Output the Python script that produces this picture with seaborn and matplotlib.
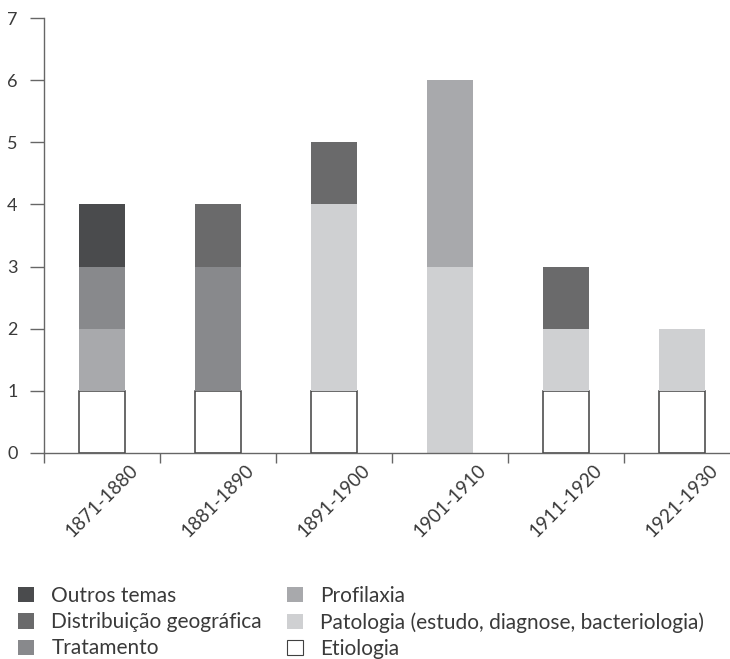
import numpy as np
import matplotlib
matplotlib.use("Agg")
import matplotlib.pyplot as plt
from matplotlib.patches import Patch
import seaborn as sns

# periods and number of works per theme (stacked from bottom to top)
periods = ["1871-1880", "1881-1890", "1891-1900", "1901-1910", "1911-1920", "1921-1930"]
etiologia = [1, 1, 1, 0, 1, 1]
patologia = [0, 0, 3, 3, 1, 1]
profilaxia = [1, 0, 0, 3, 0, 0]
tratamento = [1, 2, 0, 0, 0, 0]
distribuicao = [0, 1, 1, 0, 1, 0]
outros = [1, 0, 0, 0, 0, 0]

series = [
    ("Etiologia", etiologia, "white"),
    ("Patologia (estudo, diagnose, bacteriologia)", patologia, "#cfd0d2"),
    ("Profilaxia", profilaxia, "#a8a9ac"),
    ("Tratamento", tratamento, "#88898c"),
    ("Distribuição geográfica", distribuicao, "#6a6a6b"),
    ("Outros temas", outros, "#4a4b4d"),
]

sns.set_style("white")
plt.rcParams["font.family"] = ["Lato", "DejaVu Sans"]
txt = "#3a3a3a"
edge_col = "#404040"
axis_col = "#666666"

fig = plt.figure(figsize=(7.3, 6.59), dpi=100)
ax = fig.add_axes([0.060, 0.3126, 0.940, 0.66])

bottom = np.zeros(len(periods))
for name, vals, col in series:
    vals = np.array(vals, dtype=float)
    keep = vals > 0
    xs = [p for p, k in zip(periods, keep) if k]
    white = col == "white"
    sns.barplot(x=xs, y=vals[keep], order=periods, bottom=bottom[keep],
                color=col, edgecolor=edge_col if white else "none",
                linewidth=1.1 if white else 0, width=0.4,
                saturation=1, ax=ax, errorbar=None)
    bottom += vals

ax.set_xlim(-0.5, 5.414)
ax.set_ylim(0, 7)
ax.set_yticks(range(8))
ax.set_xticks(range(len(periods)))
ax.set_xticklabels(periods, rotation=45, ha="center", va="top", fontsize=13.5, color=txt)
ax.set_xticks(np.arange(len(periods)) - 0.5, minor=True)
ax.tick_params(axis="x", which="major", bottom=False, length=0, pad=6)
ax.tick_params(axis="x", which="minor", bottom=True, length=7, width=1, color=axis_col, direction="out")
ax.tick_params(axis="y", left=True, length=10, width=1, color=axis_col, pad=9,
               labelsize=13, labelcolor=txt)
ax.set_xlabel("")
ax.set_ylabel("")
sns.despine(ax=ax)
for s in ["left", "bottom"]:
    ax.spines[s].set_color(axis_col)
    ax.spines[s].set_linewidth(1)

# legend: two columns under the chart
colors = {n: c for n, v, c in series}
columns = [
    (["Outros temas", "Distribuição geográfica", "Tratamento"], 18 / 730),
    (["Profilaxia", "Patologia (estudo, diagnose, bacteriologia)", "Etiologia"], 287 / 730),
]
for names, x0 in columns:
    handles = [Patch(facecolor=colors[n], edgecolor=edge_col if colors[n] == "white" else "none",
                     linewidth=0.8, label=n) for n in names]
    leg = fig.legend(handles=handles, loc="upper left", bbox_to_anchor=(x0, 1 - 586 / 659),
                     frameon=False, fontsize=15, handlelength=0.75, handleheight=0.75,
                     handletextpad=0.85, labelspacing=0.3, borderpad=0, borderaxespad=0)
    for t in leg.get_texts():
        t.set_color(txt)

fig.savefig("out.png", dpi=100)
